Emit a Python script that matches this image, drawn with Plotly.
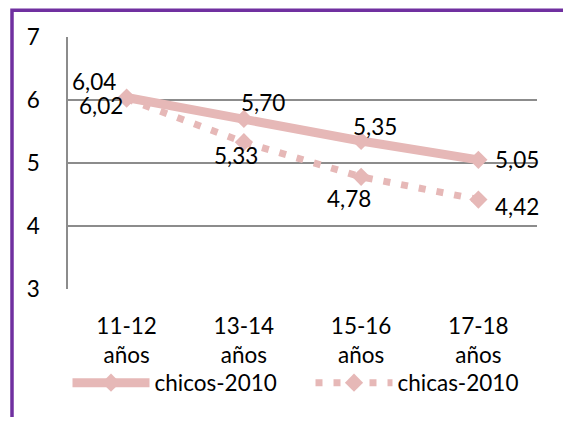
import plotly.graph_objects as go

categories = ["11-12<br>años", "13-14<br>años", "15-16<br>años", "17-18<br>años"]
chicos_2010 = [6.04, 5.70, 5.35, 5.05]
chicas_2010 = [6.02, 5.33, 4.78, 4.42]
y_ticks = [3, 4, 5, 6, 7]

# label offsets in pixels (style only)
chicos_shift = [(-33, 16), (19, 16), (14, 14), (39, 0)]
chicas_shift = [(-26, -7), (-8, -13), (-12, -22), (39, -7)]

PINK = "#E6B8B7"
FONT = "Lato"
FS = 22.5

# the page body has an 8px margin on every side
W, H = 555, 409
L, R, T, B = 60, 26, 29, 120
pw, ph = W - L - R, H - T - B


def px(xp):  # figure pixel x -> paper x
    return (xp - L) / pw


def py(yp):  # figure pixel y -> paper y
    return (H - B - yp) / ph


fig = go.Figure()
fig.add_trace(go.Scatter(
    x=categories, y=chicos_2010, name="chicos-2010", mode="lines+markers",
    line=dict(color=PINK, width=9),
    marker=dict(symbol="diamond", size=14, color=PINK),
))
fig.add_trace(go.Scatter(
    x=categories, y=chicas_2010, name="chicas-2010", mode="lines+markers",
    line=dict(color=PINK, width=7, dash="7px,11px"),
    marker=dict(symbol="diamond", size=14, color=PINK),
))


def fmt(v):
    return f"{v:.2f}".replace(".", ",")


for vals, shifts in ((chicos_2010, chicos_shift), (chicas_2010, chicas_shift)):
    for c, v, (dx, dy) in zip(categories, vals, shifts):
        fig.add_annotation(x=c, y=v, text=fmt(v), showarrow=False,
                           xshift=dx, yshift=dy,
                           font=dict(family=FONT, size=FS, color="black"))

# purple frame: only the left and top edges are inside the picture
x_left, x_right = px(4), px(W + 50)
y_top, y_bottom = py(1.5), py(H + 50)
fig.add_shape(type="path", xref="paper", yref="paper",
              path=f"M {x_left},{y_bottom} L {x_left},{y_top} L {x_right},{y_top}",
              line=dict(color="#7030A0", width=3.5), layer="above")

fig.update_layout(
    width=W, height=H,
    margin=dict(l=L, r=R, t=T, b=B),
    paper_bgcolor="white", plot_bgcolor="white",
    font=dict(family=FONT, size=FS, color="black"),
    showlegend=True,
    legend=dict(orientation="h", x=px(59.5), xanchor="left",
                y=py(386), yanchor="middle",
                itemwidth=77, entrywidth=151, entrywidthmode="pixels",
                font=dict(family=FONT, size=FS),
                bgcolor="rgba(0,0,0,0)"),
    xaxis=dict(type="category", range=[-0.5, 3.5], showgrid=False,
               showline=False, zeroline=False, ticks="",
               ticklabelstandoff=21, tickfont=dict(family=FONT, size=FS)),
    yaxis=dict(range=[3, 7], tickvals=y_ticks, showgrid=True,
               gridcolor="#8C8C8C", gridwidth=1.5, showline=True,
               linecolor="#8C8C8C", linewidth=1.5, zeroline=False,
               ticks="", ticklabelstandoff=22,
               tickfont=dict(family=FONT, size=FS)),
)

fig.write_html("out.html")
